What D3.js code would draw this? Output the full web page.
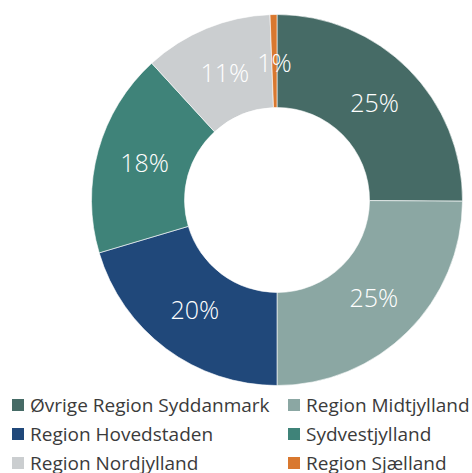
<!DOCTYPE html>
<html>
<head>
<meta charset="utf-8">
<script src="https://cdn.jsdelivr.net/npm/d3@7"></script>
<style>
  body { margin: 0; background: #fff; }
  svg { display: block; font-family: "Open Sans", "Segoe UI", sans-serif; }
</style>
</head>
<body>
<div id="chart"></div>
<script>
// regions and their share (percent)
const regions = ['Øvrige Region Syddanmark', 'Region Midtjylland', 'Region Hovedstaden',
  'Sydvestjylland', 'Region Nordjylland', 'Region Sjælland'];
const shares = [25.1, 24.9, 20.4, 17.8, 11.2, 0.6];
const colors = ['#466b66', '#8ba7a3', '#20487a', '#3f8379', '#cbced0', '#d9782f'];

const width = 472, height = 473;
const cx = 277, cy = 200;
const outerR = 185.5, innerR = 92.5;

const svg = d3.select('#chart').append('svg')
  .attr('width', width)
  .attr('height', height);

const data = regions.map((r, i) => ({ region: r, value: shares[i], color: colors[i] }));

const pie = d3.pie().sort(null).value(d => d.value);
const arc = d3.arc().innerRadius(innerR).outerRadius(outerR);
const labelArc = d3.arc().innerRadius(91).outerRadius(184);

const g = svg.append('g').attr('transform', `translate(${cx},${cy})`);

const arcs = pie(data);

g.selectAll('path')
  .data(arcs)
  .enter().append('path')
  .attr('d', arc)
  .attr('fill', d => d.data.color)
  .attr('stroke', '#fff')
  .attr('stroke-width', 0.6);

g.selectAll('text')
  .data(arcs)
  .enter().append('text')
  .attr('transform', d => `translate(${labelArc.centroid(d)})`)
  .attr('text-anchor', 'middle')
  .attr('dy', '0.36em')
  .attr('fill', '#fff')
  .style('font-size', '25px')
  .style('font-weight', 300)
  .text(d => Math.round(d.data.value) + '%');

// legend, two columns
const colX = [12, 288];
const rowY = [405, 434, 463];
const legend = svg.append('g');

const item = legend.selectAll('g')
  .data(data)
  .enter().append('g')
  .attr('transform', (d, i) => `translate(${colX[i % 2]},${rowY[Math.floor(i / 2)]})`);

item.append('rect')
  .attr('x', 0)
  .attr('y', -6)
  .attr('width', 12)
  .attr('height', 12)
  .attr('fill', d => d.color);

item.append('text')
  .attr('x', 18)
  .attr('dy', '0.36em')
  .attr('fill', '#3b3b3b')
  .style('font-size', '19px')
  .text(d => d.region);
</script>
</body>
</html>
